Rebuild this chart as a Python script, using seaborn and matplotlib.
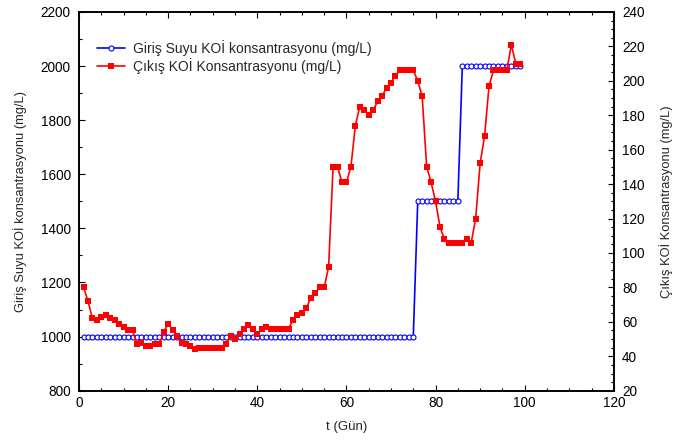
"""
Influent vs effluent COD concentration over time (twin y-axes).
"""

import matplotlib
matplotlib.use("Agg")
import matplotlib.pyplot as plt
from matplotlib.ticker import AutoMinorLocator, MultipleLocator
import seaborn as sns
import pandas as pd

# Data
DAYS = list(range(1, 100))

# Giriş Suyu KOİ (mg/L), left axis
INFLUENT_COD = [
    1000, 1000, 1000, 1000, 1000, 1000, 1000, 1000, 1000, 1000,
    1000, 1000, 1000, 1000, 1000, 1000, 1000, 1000, 1000, 1000,
    1000, 1000, 1000, 1000, 1000, 1000, 1000, 1000, 1000, 1000,
    1000, 1000, 1000, 1000, 1000, 1000, 1000, 1000, 1000, 1000,
    1000, 1000, 1000, 1000, 1000, 1000, 1000, 1000, 1000, 1000,
    1000, 1000, 1000, 1000, 1000, 1000, 1000, 1000, 1000, 1000,
    1000, 1000, 1000, 1000, 1000, 1000, 1000, 1000, 1000, 1000,
    1000, 1000, 1000, 1000, 1000, 1500, 1500, 1500, 1500, 1500,
    1500, 1500, 1500, 1500, 1500, 2000, 2000, 2000, 2000, 2000,
    2000, 2000, 2000, 2000, 2000, 2000, 2000, 2000, 2000,
]

# Çıkış KOİ (mg/L), right axis
EFFLUENT_COD = [
    80, 72, 62, 61, 63, 64, 62, 61, 59, 57,
    55, 55, 47, 48, 46, 46, 47, 47, 54, 59,
    55, 52, 48, 47, 46, 44, 45, 45, 45, 45,
    45, 45, 47, 52, 50, 53, 56, 58, 56, 53,
    56, 57, 56, 56, 56, 56, 56, 61, 64, 65,
    68, 74, 77, 80, 80, 92, 150, 150, 141, 141,
    150, 174, 185, 183, 180, 183, 188, 191, 196, 199,
    203, 206, 206, 206, 206, 200, 191, 150, 141, 130,
    115, 108, 106, 106, 106, 106, 108, 106, 120, 152,
    168, 197, 206, 206, 206, 206, 221, 210, 210,
]

LABEL_IN = "Giriş Suyu KOİ konsantrasyonu (mg/L)"
LABEL_OUT = "Çıkış KOİ Konsantrasyonu (mg/L)"

sns.set_theme(style="white")
plt.rcParams["font.family"] = ["Liberation Sans", "DejaVu Sans"]
plt.rcParams["font.size"] = 9


def main():
    df = pd.DataFrame({"t": DAYS, "giris": INFLUENT_COD, "cikis": EFFLUENT_COD})

    fig = plt.figure(figsize=(6.76, 4.41), dpi=100)
    ax = fig.add_axes([0.117, 0.114, 0.791, 0.859])
    ax2 = ax.twinx()

    sns.lineplot(data=df, x="t", y="giris", ax=ax, color="#0000ff", lw=1.2,
                 marker="o", markersize=3.6, markerfacecolor="white",
                 markeredgecolor="#0000ff", markeredgewidth=0.8, label=LABEL_IN,
                 legend=False)
    sns.lineplot(data=df, x="t", y="cikis", ax=ax2, color="#ff0000", lw=1.2,
                 marker="s", markersize=5, markeredgecolor="#ff0000",
                 markeredgewidth=0, label=LABEL_OUT, legend=False)

    ax.set_xlim(0, 120)
    ax.set_ylim(800, 2200)
    ax2.set_ylim(20, 240)
    ax.xaxis.set_major_locator(MultipleLocator(20))
    ax.xaxis.set_minor_locator(AutoMinorLocator(4))
    ax.yaxis.set_major_locator(MultipleLocator(200))
    ax.yaxis.set_minor_locator(AutoMinorLocator(2))
    ax2.yaxis.set_major_locator(MultipleLocator(20))
    ax2.yaxis.set_minor_locator(AutoMinorLocator(4))

    ax.set_xlabel("t (Gün)", fontsize=9.5, labelpad=8)
    ax.set_ylabel(LABEL_IN, fontsize=9.3, labelpad=10)
    ax2.set_ylabel(LABEL_OUT, fontsize=9.3, labelpad=10)

    for a in (ax, ax2):
        for s in a.spines.values():
            s.set_color("black")
            s.set_linewidth(1.2)
    ax.tick_params(axis="both", which="both", direction="in", colors="black",
                   labelsize=9.8, top=True, right=False, left=True, bottom=True)
    ax.tick_params(axis="y", pad=6)
    ax.tick_params(which="major", length=4, width=0.8)
    ax.tick_params(which="minor", length=2.5, width=0.8)
    ax2.tick_params(axis="y", which="both", direction="in", colors="black",
                    labelsize=9.8, right=True, pad=6)
    ax2.tick_params(which="major", length=4, width=0.8)
    ax2.tick_params(which="minor", length=2.5, width=0.8)

    h1, l1 = ax.get_legend_handles_labels()
    h2, l2 = ax2.get_legend_handles_labels()
    ax2.legend(h1 + h2, l1 + l2, loc="upper left", frameon=False, fontsize=10,
               bbox_to_anchor=(0.01, 0.96), handlelength=2.0,
               handletextpad=0.6, labelspacing=0.15)

    fig.savefig("out.png", dpi=100)
    plt.close(fig)


if __name__ == "__main__":
    main()
